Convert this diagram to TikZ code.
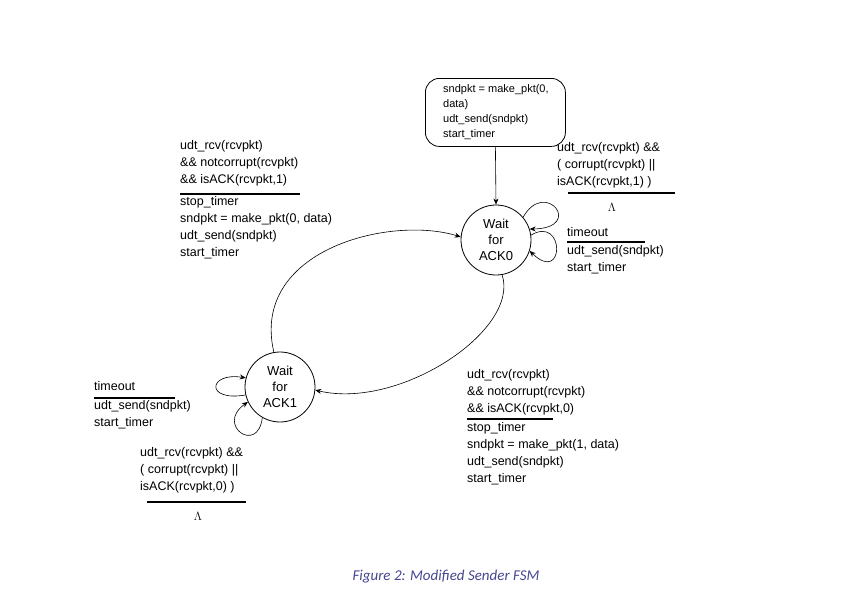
\documentclass[tikz,border=0pt]{standalone}
\usepackage{fontspec}
\setmainfont{Liberation Sans}
\newfontfamily\capfont{Carlito}
\usetikzlibrary{arrows.meta}
\begin{document}
\begin{tikzpicture}[x=1pt,y=-1pt,
  st/.style={circle,draw,line width=0.8pt,minimum size=70pt,inner sep=0pt,align=center,font=\fontsize{13}{16}\selectfont},
  lbl/.style={anchor=north west,align=left,inner sep=0pt,font=\fontsize{12.5}{17}\selectfont},
  ar/.style={-{Stealth[length=6pt,width=5pt]},line width=0.6pt},
  ul/.style={line width=1.4pt}]
\useasboundingbox (0,0) rectangle (842,608);
\node[st] (a0) at (496,240) {Wait\\for\\ACK0};
\node[st] (a1) at (280,387) {Wait\\for\\ACK1};
\node[draw,rounded corners=14pt,line width=0.8pt,minimum width=140pt,minimum height=68pt,anchor=north west,inner sep=0pt] (init) at (425,78) {};
\node[anchor=north west,align=left,inner sep=0pt,font=\fontsize{11}{15}\selectfont] (initt) at (443,84) {sndpkt = make\_pkt(0,\\data)\\udt\_send(sndpkt)\\start\_timer};
\draw[ar] (init.south) -- (a0.north);
\draw[ar] (a1.100) .. controls (250,250) and (390,215) .. (a0.175);
\draw[ar] (a0.-80) .. controls (520,330) and (400,410) .. (a1.-5);
\draw[ar] (a0.40) .. controls (545,178) and (585,228) .. (a0.18);
\draw[ar] (a0.8) .. controls (565,215) and (565,285) .. (a0.-18);
\draw[ar] (a1.193) .. controls (205,402) and (208,372) .. (a1.165);
\draw[ar] (a1.-120) .. controls (258,455) and (215,425) .. (a1.205);
% labels
\node[lbl] (l1) at (180,140) {udt\_rcv(rcvpkt)\\\&\& notcorrupt(rcvpkt)\\\&\& isACK(rcvpkt,1)};
\draw[ul] (180,194) -- (300,194);
\node[lbl] (l1b) at (180,196) {stop\_timer\\sndpkt = make\_pkt(0, data)\\udt\_send(sndpkt)\\start\_timer};
\node[lbl] (l2) at (557,142) {udt\_rcv(rcvpkt) \&\&\\( corrupt(rcvpkt) ||\\isACK(rcvpkt,1) )};
\draw[ul] (568,193) -- (675,193);
\node[font=\fontsize{12}{14}\selectfont] (lam1) at (612,207) {$\Lambda$};
\node[lbl] (l3) at (567,227) {timeout};
\draw[ul] (567,242) -- (645,242);
\node[lbl] (l3b) at (567,245) {udt\_send(sndpkt)\\start\_timer};
\node[lbl] (l4) at (467,369) {udt\_rcv(rcvpkt)\\\&\& notcorrupt(rcvpkt)\\\&\& isACK(rcvpkt,0)};
\draw[ul] (467,419) -- (553,419);
\node[lbl] (l4b) at (467,422) {stop\_timer\\sndpkt = make\_pkt(1, data)\\udt\_send(sndpkt)\\start\_timer};
\node[lbl] (l5) at (94,381) {timeout};
\draw[ul] (94,398) -- (175,398);
\node[lbl] (l5b) at (94,400) {udt\_send(sndpkt)\\start\_timer};
\node[lbl] (l6) at (140,447) {udt\_rcv(rcvpkt) \&\&\\( corrupt(rcvpkt) ||\\isACK(rcvpkt,0) )};
\draw[ul] (147,502) -- (246,502);
\node[font=\fontsize{12}{14}\selectfont] (lam2) at (198,516) {$\Lambda$};
\node[text=black!35!blue!45!gray,font=\fontsize{15}{18}\capfont\itshape] (cap) at (446,577) {Figure 2: Modified Sender FSM};
\end{tikzpicture}
\end{document}
